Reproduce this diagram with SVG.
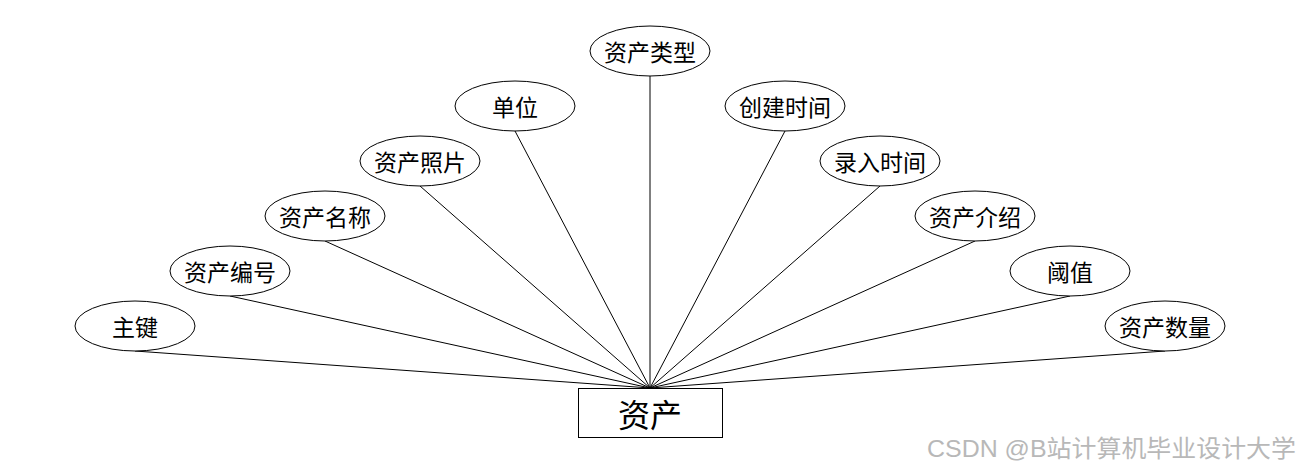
<svg xmlns="http://www.w3.org/2000/svg" width="1300" height="468" viewBox="0 0 1300 468">
<style>
.attr ellipse{fill:#fff;stroke:#000;stroke-width:1}
.lbl{font-family:"Microsoft YaHei","Noto Sans CJK SC","Noto Sans",sans-serif;font-size:23px;fill:#000;text-anchor:middle;dominant-baseline:central}
.conn line{stroke:#000;stroke-width:1}
.ent rect{fill:#fff;stroke:#000;stroke-width:1}
.wm{font-family:"Liberation Sans","Noto Sans CJK SC",sans-serif;font-size:24px;fill:#b8b8b8}
</style>
<rect width="1300" height="468" fill="#fff"/>
<g id="connectors" class="conn">
<line x1="135" y1="351" x2="650" y2="388"/>
<line x1="230" y1="296" x2="650" y2="388"/>
<line x1="325" y1="241" x2="650" y2="388"/>
<line x1="420" y1="186" x2="650" y2="388"/>
<line x1="515" y1="131" x2="650" y2="388"/>
<line x1="650" y1="76" x2="650" y2="388"/>
<line x1="785" y1="131" x2="650" y2="388"/>
<line x1="880" y1="186" x2="650" y2="388"/>
<line x1="975" y1="241" x2="650" y2="388"/>
<line x1="1070" y1="296" x2="650" y2="388"/>
<line x1="1165" y1="351" x2="650" y2="388"/>
</g>
<g id="n-zhujian" class="attr"><ellipse cx="135" cy="326" rx="60" ry="25"/><text class="lbl" x="135" y="326">主键</text></g>
<g id="n-bianhao" class="attr"><ellipse cx="230" cy="271" rx="60" ry="25"/><text class="lbl" x="230" y="271">资产编号</text></g>
<g id="n-mingcheng" class="attr"><ellipse cx="325" cy="216" rx="60" ry="25"/><text class="lbl" x="325" y="216">资产名称</text></g>
<g id="n-zhaopian" class="attr"><ellipse cx="420" cy="161" rx="60" ry="25"/><text class="lbl" x="420" y="161">资产照片</text></g>
<g id="n-danwei" class="attr"><ellipse cx="515" cy="106" rx="60" ry="25"/><text class="lbl" x="515" y="106">单位</text></g>
<g id="n-leixing" class="attr"><ellipse cx="650" cy="51" rx="60" ry="25"/><text class="lbl" x="650" y="51">资产类型</text></g>
<g id="n-chuangjian" class="attr"><ellipse cx="785" cy="106" rx="60" ry="25"/><text class="lbl" x="785" y="106">创建时间</text></g>
<g id="n-luru" class="attr"><ellipse cx="880" cy="161" rx="60" ry="25"/><text class="lbl" x="880" y="161">录入时间</text></g>
<g id="n-jieshao" class="attr"><ellipse cx="975" cy="216" rx="60" ry="25"/><text class="lbl" x="975" y="216">资产介绍</text></g>
<g id="n-yuzhi" class="attr"><ellipse cx="1070" cy="271" rx="60" ry="25"/><text class="lbl" x="1070" y="271">阈值</text></g>
<g id="n-shuliang" class="attr"><ellipse cx="1165" cy="326" rx="60" ry="25"/><text class="lbl" x="1165" y="326">资产数量</text></g>
<g id="n-zichan" class="ent"><rect x="578.5" y="388.5" width="144" height="49"/><text class="lbl" x="650" y="413" style="font-size:32px">资产</text></g>
<text class="wm" x="927" y="457" textLength="369" lengthAdjust="spacingAndGlyphs">CSDN @B站计算机毕业设计大学</text>
</svg>
